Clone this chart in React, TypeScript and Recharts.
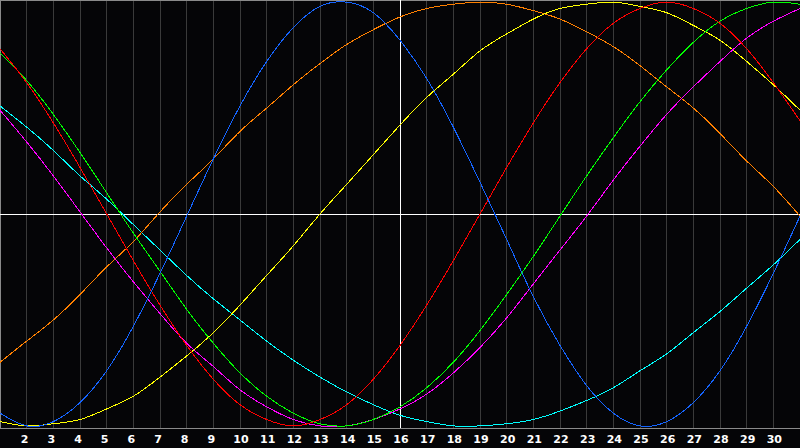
import { LineChart, Line, XAxis, YAxis, CartesianGrid, ReferenceLine } from "recharts";

// days shown on the chart, day 16 is "today"
const days = [1, 2, 3, 4, 5, 6, 7, 8, 9, 10, 11, 12, 13, 14, 15, 16, 17, 18, 19, 20, 21, 22, 23, 24, 25, 26, 27, 28, 29, 30, 31];
const dayTicks = [2, 3, 4, 5, 6, 7, 8, 9, 10, 11, 12, 13, 14, 15, 16, 17, 18, 19, 20, 21, 22, 23, 24, 25, 26, 27, 28, 29, 30];
const today = 16;

// cycle values, -100..100
const physical = [-94, -100, -98, -89, -74, -53, -28, -1, 26, 51, 72, 88, 98, 100, 95, 82, 64, 41, 15, -12, -39, -62, -81, -94, -100, -98, -89, -74, -53, -28, -1];
const emotional = [78, 62, 43, 22, 0, -22, -43, -62, -78, -90, -97, -100, -97, -90, -78, -62, -43, -22, 0, 22, 43, 62, 78, 90, 97, 100, 97, 90, 78, 62, 44];
const intellectual = [76, 63, 47, 29, 10, -9, -27, -45, -61, -75, -86, -94, -99, -100, -97, -91, -82, -70, -55, -38, -20, -1, 18, 36, 53, 68, 81, 91, 97, 100, 99];
const intuitive = [49, 34, 18, 1, -16, -32, -47, -61, -72, -83, -91, -97, -100, -100, -97, -92, -85, -75, -63, -49, -33, -17, -1, 16, 32, 47, 60, 72, 83, 91, 97];
const aesthetic = [-98, -100, -99, -97, -92, -86, -77, -67, -56, -43, -29, -15, 0, 14, 28, 42, 55, 66, 77, 85, 92, 97, 99, 100, 98, 95, 89, 82, 72, 61, 49];
const awareness = [-70, -60, -50, -38, -25, -13, 1, 14, 26, 39, 50, 61, 71, 80, 87, 93, 97, 99, 100, 99, 96, 92, 86, 79, 70, 60, 50, 38, 25, 13, -1];
const spiritual = [51, 41, 30, 18, 7, -5, -17, -29, -40, -50, -60, -69, -77, -84, -90, -95, -98, -100, -100, -99, -97, -93, -88, -82, -74, -66, -56, -46, -35, -24, -12];

const rows = days.map((d, i) => ({
    day: d,
    physical: physical[i],
    emotional: emotional[i],
    intellectual: intellectual[i],
    intuitive: intuitive[i],
    aesthetic: aesthetic[i],
    awareness: awareness[i],
    spiritual: spiritual[i],
}));

const DayTick = (props: any) => {
    const { x, payload } = props;
    const label = String(payload.value);
    return (
        <text
            x={x + (label.length === 1 ? -2 : 1)}
            y={443}
            textAnchor="middle"
            fill="#ffffff"
            fontFamily="DejaVu Sans"
            fontWeight="bold"
            fontSize={11}
        >
            {label}
        </text>
    );
};

const lineProps = {
    type: "natural" as const,
    dot: false,
    activeDot: false,
    strokeWidth: 1,
    shapeRendering: "crispEdges",
    isAnimationActive: false,
};

export default function App() {
    return (
        <div style={{ position: "absolute", left: 0, top: 0, width: 800, height: 448, background: "#050507" }}>
            <LineChart width={800} height={448} data={rows} margin={{ top: 0, right: 0, bottom: 0, left: 0 }}>
                <CartesianGrid horizontal={false} stroke="#3a3a3a" shapeRendering="crispEdges" />
                <XAxis
                    dataKey="day"
                    type="number"
                    domain={[1, 31]}
                    ticks={dayTicks}
                    interval={0}
                    height={20}
                    tickLine={false}
                    axisLine={{ stroke: "#8a8a8a", shapeRendering: "crispEdges" }}
                    tick={<DayTick />}
                />
                <YAxis hide domain={[-101, 101]} />
                <ReferenceLine x={1} stroke="#8a8a8a" strokeWidth={2} />
                <ReferenceLine y={101} stroke="#8a8a8a" strokeWidth={2} />
                <ReferenceLine y={0} stroke="#ffffff" shapeRendering="crispEdges" />
                <ReferenceLine x={today} stroke="#ffffff" shapeRendering="crispEdges" />
                <Line {...lineProps} dataKey="spiritual" stroke="#00ffff" />
                <Line {...lineProps} dataKey="awareness" stroke="#ff8000" />
                <Line {...lineProps} dataKey="aesthetic" stroke="#ffff00" />
                <Line {...lineProps} dataKey="intuitive" stroke="#ff00ff" />
                <Line {...lineProps} dataKey="intellectual" stroke="#00ff00" />
                <Line {...lineProps} dataKey="emotional" stroke="#ff0000" />
                <Line {...lineProps} dataKey="physical" stroke="#1464ff" />
            </LineChart>
        </div>
    );
}
